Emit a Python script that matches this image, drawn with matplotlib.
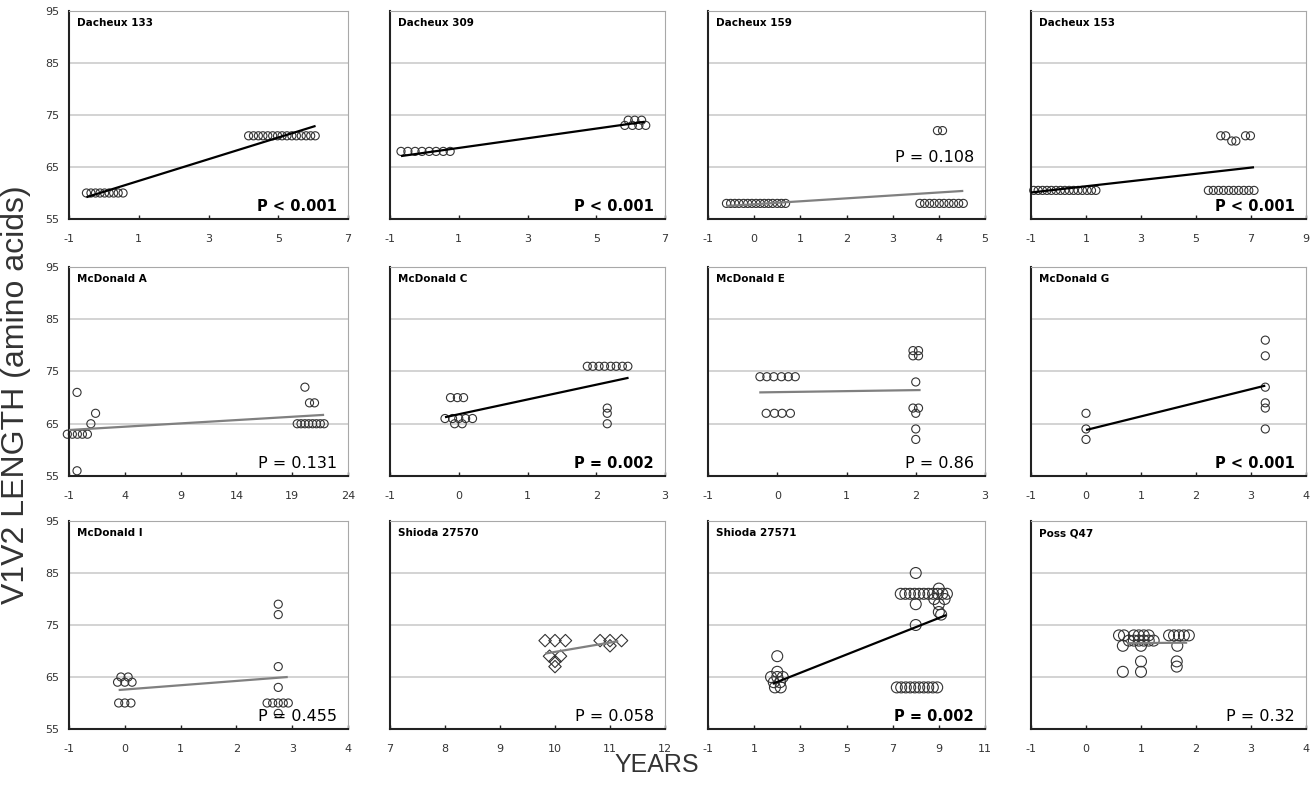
import matplotlib
matplotlib.use("Agg")
import matplotlib.pyplot as plt

plt.rcParams["axes.unicode_minus"] = False

# V1V2 length (amino acids) against years since first sample, one panel per subject
titles = ["Dacheux 133", "Dacheux 309", "Dacheux 159", "Dacheux 153",
          "McDonald A", "McDonald C", "McDonald E", "McDonald G",
          "McDonald I", "Shioda 27570", "Shioda 27571", "Poss Q47"]
p_labels = ["P < 0.001", "P < 0.001", "P = 0.108", "P < 0.001",
            "P = 0.131", "P = 0.002", "P = 0.86", "P < 0.001",
            "P = 0.455", "P = 0.058", "P = 0.002", "P = 0.32"]
x_ticks = [[-1, 1, 3, 5, 7], [-1, 1, 3, 5, 7], [-1, 0, 1, 2, 3, 4, 5], [-1, 1, 3, 5, 7, 9],
           [-1, 4, 9, 14, 19, 24], [-1, 0, 1, 2, 3], [-1, 0, 1, 2, 3], [-1, 0, 1, 2, 3, 4],
           [-1, 0, 1, 2, 3, 4], [7, 8, 9, 10, 11, 12], [-1, 1, 3, 5, 7, 9, 11], [-1, 0, 1, 2, 3, 4]]
y_ticks = [55, 65, 75, 85, 95]

dacheux133_x = [-0.5, -0.37, -0.24, -0.11, 0.02, 0.15, 0.28, 0.41, 0.55,
                4.15, 4.29, 4.43, 4.56, 4.70, 4.84, 4.98, 5.11, 5.25, 5.39, 5.52, 5.66, 5.80, 5.93, 6.06]
dacheux133_y = [60] * 9 + [71] * 15

dacheux309_x = [-0.68, -0.48, -0.27, -0.07, 0.14, 0.34, 0.55, 0.75,
                5.93, 6.12, 6.32, 5.83, 6.05, 6.24, 6.44]
dacheux309_y = [68] * 8 + [74] * 3 + [73] * 4

dacheux159_x = [-0.6, -0.51, -0.42, -0.33, -0.23, -0.14, -0.05, 0.04, 0.13, 0.22, 0.31, 0.40, 0.50, 0.59, 0.68,
                3.59, 3.69, 3.80, 3.90, 4.01, 4.11, 4.22, 4.32, 4.43, 4.53, 3.97, 4.08]
dacheux159_y = [58] * 15 + [58] * 10 + [72, 72]

dacheux153_x = [-0.9, -0.74, -0.58, -0.42, -0.26, -0.09, 0.07, 0.23, 0.39, 0.55, 0.71, 0.87, 1.04, 1.20, 1.36,
                5.45, 5.63, 5.82, 6.00, 6.19, 6.37, 6.55, 6.74, 6.92, 7.11,
                5.9, 6.08, 6.3, 6.45, 6.8, 6.98]
dacheux153_y = [60.5] * 15 + [60.5] * 10 + [71, 71, 70, 70, 71, 71]

mcdonaldA_x = [-1.15, -0.7, -0.25, 0.2, 0.65, -0.28, -0.28, 0.96, 1.38,
               19.45, 19.79, 20.14, 20.48, 20.83, 21.17, 21.52, 21.86, 20.14, 20.55, 21.0]
mcdonaldA_y = [63] * 5 + [71, 56, 65, 67] + [65] * 8 + [72, 69, 69]

mcdonaldC_x = [-0.12, -0.02, 0.07, -0.2, -0.09, 0.0, 0.1, 0.2, -0.06, 0.05,
               1.87, 1.95, 2.04, 2.12, 2.21, 2.29, 2.38, 2.46, 2.16, 2.16, 2.16]
mcdonaldC_y = [70] * 3 + [66] * 5 + [65] * 2 + [76] * 8 + [68, 67, 65]

mcdonaldE_x = [-0.25, -0.15, -0.05, 0.06, 0.16, 0.26, -0.16, -0.04, 0.07, 0.19,
               1.96, 2.04, 1.96, 2.04, 2.0, 1.96, 2.04, 2.0, 2.0, 2.0]
mcdonaldE_y = [74] * 6 + [67] * 4 + [79, 79, 78, 78, 73, 68, 68, 67, 64, 62]

mcdonaldG_x = [0, 0, 0, 3.26, 3.26, 3.26, 3.26, 3.26, 3.26]
mcdonaldG_y = [67, 64, 62, 81, 78, 72, 69, 68, 64]

mcdonaldI_x = [-0.07, 0.06, -0.13, 0.0, 0.13, -0.11, 0.0, 0.11,
               2.75, 2.75, 2.75, 2.75, 2.55, 2.65, 2.75, 2.84, 2.93, 2.75]
mcdonaldI_y = [65, 65, 64, 64, 64, 60, 60, 60, 79, 77, 67, 63, 60, 60, 60, 60, 60, 58]

shioda27570_x = [9.82, 10.0, 10.19, 10.82, 11.0, 11.21, 11.0, 9.9, 10.1, 10.0, 10.0]
shioda27570_y = [72, 72, 72, 72, 72, 72, 71, 69, 69, 68, 67]

shioda27571_x = [2.0, 2.0, 1.73, 2.0, 2.24, 1.85, 2.12, 1.9, 2.15,
                 7.18, 7.37, 7.57, 7.76, 7.96, 8.15, 8.35, 8.54, 8.74, 8.93,
                 8.0, 8.0, 8.0,
                 7.35, 7.55, 7.75, 7.95, 8.15, 8.35, 8.55, 8.75, 8.95, 9.15, 9.35,
                 9.0, 8.8, 9.25, 9.0, 9.0, 9.1]
shioda27571_y = [69, 66, 65, 65, 65, 64, 64, 63, 63] + [63] * 10 + [85, 79, 75] + [81] * 11 + \
                [82, 80, 80, 79, 77.5, 77]

possQ47_x = [0.6, 0.69, 0.87, 0.96, 1.05, 1.14, 1.51, 1.6, 1.69, 1.78, 1.87,
             0.78, 0.87, 0.96, 1.05, 1.14, 1.23,
             0.67, 1.0, 1.66, 1.0, 1.65, 1.65, 0.67, 1.0]
possQ47_y = [73] * 11 + [72] * 6 + [71, 71, 71, 68, 68, 67, 66, 66]

# regression line ends (x0, y0, x1, y1) for each panel
trend_lines = [(-0.5, 59.2, 6.07, 72.9), (-0.68, 67.1, 6.41, 73.7), (-0.6, 57.5, 4.53, 60.4),
               (-1.0, 60.1, 7.11, 64.95), (-1.0, 63.8, 21.86, 66.7), (-0.2, 66.25, 2.47, 73.8),
               (-0.26, 71.0, 2.07, 71.45), (0.0, 63.8, 3.26, 72.3), (-0.11, 62.5, 2.92, 65.0),
               (9.82, 69.5, 11.15, 71.9), (1.8, 63.7, 9.32, 76.9), (0.75, 71.5, 1.84, 71.6)]

xs = [dacheux133_x, dacheux309_x, dacheux159_x, dacheux153_x, mcdonaldA_x, mcdonaldC_x,
      mcdonaldE_x, mcdonaldG_x, mcdonaldI_x, shioda27570_x, shioda27571_x, possQ47_x]
ys = [dacheux133_y, dacheux309_y, dacheux159_y, dacheux153_y, mcdonaldA_y, mcdonaldC_y,
      mcdonaldE_y, mcdonaldG_y, mcdonaldI_y, shioda27570_y, shioda27571_y, possQ47_y]

W, H = 1313, 787
col_px = [(69, 348), (390, 665), (708, 985), (1031, 1306)]
row_px = [(11, 219), (267, 476), (521, 729)]

fig = plt.figure(figsize=(W / 100, H / 100), dpi=100)

for i in range(12):
    r, c = divmod(i, 4)
    x0, x1 = col_px[c]
    y0, y1 = row_px[r]
    ax = fig.add_axes([x0 / W, 1 - y1 / H, (x1 - x0) / W, (y1 - y0) / H])

    for g in (65, 75, 85):
        ax.axhline(g, color="#cccccc", lw=1.2, zorder=0)

    significant = p_labels[i].startswith("P <") or p_labels[i] == "P = 0.002"
    tx0, ty0, tx1, ty1 = trend_lines[i]
    ax.plot([tx0, tx1], [ty0, ty1], color="black" if significant else "#808080",
            lw=1.6, zorder=3, solid_capstyle="butt")

    if titles[i] == "Shioda 27570":
        ax.scatter(xs[i], ys[i], marker="D", s=40, facecolors="none",
                   edgecolors="#333333", linewidths=0.8, zorder=2, clip_on=False)
    else:
        size = 62 if titles[i] in ("Shioda 27571", "Poss Q47") else 34
        ax.scatter(xs[i], ys[i], marker="o", s=size, facecolors="none",
                   edgecolors="#333333", linewidths=0.8, zorder=2, clip_on=False)

    ax.set_xlim(x_ticks[i][0], x_ticks[i][-1])
    ax.set_xticks(x_ticks[i])
    ax.set_ylim(55, 95)
    ax.set_yticks(y_ticks)
    if c != 0:
        ax.set_yticklabels([])

    ax.spines["left"].set(color="#222222", lw=1.5)
    ax.spines["bottom"].set(color="#222222", lw=1.5)
    ax.spines["top"].set(color="#a8a8a8", lw=0.8)
    ax.spines["right"].set(color="#a8a8a8", lw=0.8)
    ax.tick_params(axis="x", direction="in", length=3, width=1, pad=11,
                   labelsize=8, labelcolor="#333333", color="#222222")
    ax.tick_params(axis="y", length=0, pad=7, labelsize=8, labelcolor="#333333")

    ax.text(0.03, 0.965, titles[i], transform=ax.transAxes, ha="left", va="top",
            fontsize=7.5, fontweight="bold")

    py = 0.26 if titles[i] == "Dacheux 159" else 0.025
    ax.text(0.96, py, p_labels[i], transform=ax.transAxes, ha="right", va="bottom",
            fontsize=10.5 if significant else 11.5,
            fontweight="bold" if significant else "normal")

fig.text(0.012, 0.498, "V1V2 LENGTH (amino acids)", rotation=90, ha="center", va="center",
         fontsize=23, family="Liberation Sans", color="#333333")
fig.text(0.5, 0.028, "YEARS", ha="center", va="center",
         fontsize=18, family="Liberation Sans", color="#333333")

fig.savefig("out.png", dpi=100)
